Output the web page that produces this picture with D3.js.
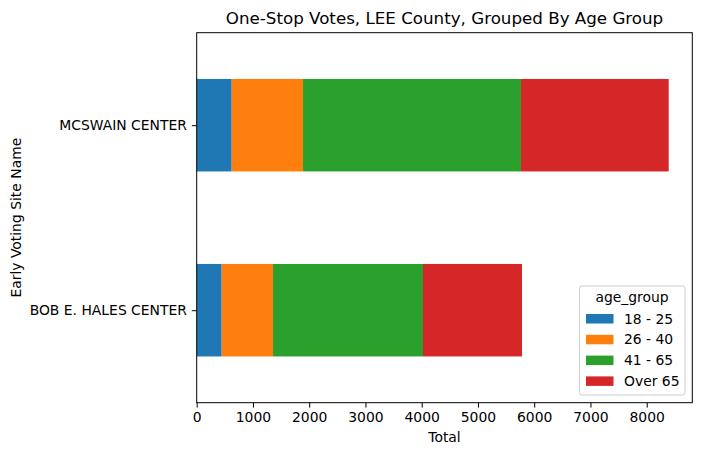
<!DOCTYPE html>
<html><head><meta charset="utf-8">
<script src="https://cdn.jsdelivr.net/npm/d3@7"></script>
<style>
body{margin:0;background:#fff;}
text{font-family:"DejaVu Sans",sans-serif;fill:#000;}
</style></head>
<body>
<svg id="chart" width="702" height="455"></svg>
<script>
const sites = ["BOB E. HALES CENTER", "MCSWAIN CENTER"];
const ageGroups = ["18 - 25", "26 - 40", "41 - 65", "Over 65"];
const v18_25 = [444, 622];
const v26_40 = [913, 1268];
const v41_65 = [2666, 3875];
const vOver65 = [1760, 2626];
const xTicks = [0, 1000, 2000, 3000, 4000, 5000, 6000, 7000, 8000];
const colors = ["#1f77b4", "#ff7f0e", "#2ca02c", "#d62728"];

const series = [v18_25, v26_40, v41_65, vOver65];
const rows = sites.map((s, i) => {
  const r = {site: s};
  ageGroups.forEach((g, k) => r[g] = series[k][i]);
  return r;
});
const stacked = d3.stack().keys(ageGroups)(rows);

const L = 196.7, R = 692.3, T = 32.7, B = 402.7;
const svg = d3.select("#chart");
const maxTotal = d3.max(rows, r => ageGroups.reduce((a, g) => a + r[g], 0));
const x = d3.scaleLinear().domain([0, maxTotal * 1.05]).range([L, R]);
// categories at 0..n-1, y-range from -0.5 to n-0.5 (bottom to top)
const yLin = d3.scaleLinear().domain([-0.5, sites.length - 0.5]).range([B, T]);
const barH = 0.5;

stacked.forEach((layer, k) => {
  svg.append("g").selectAll("rect").data(layer).join("rect")
    .attr("x", d => x(d[0]))
    .attr("width", d => x(d[1]) - x(d[0]))
    .attr("y", (d, i) => yLin(i + barH / 2))
    .attr("height", (d, i) => yLin(i - barH / 2) - yLin(i + barH / 2))
    .attr("fill", colors[k]);
});

// frame
svg.append("rect").attr("x", L).attr("y", T).attr("width", R - L).attr("height", B - T)
  .attr("fill", "none").attr("stroke", "#000").attr("stroke-width", 1);

// x axis
const xAxis = d3.axisBottom(x).tickValues(xTicks).tickFormat(d3.format("d")).tickSize(4.9).tickPadding(4.9);
const gx = svg.append("g").attr("transform", `translate(0,${B})`).call(xAxis);
gx.select(".domain").remove();
gx.selectAll("text").style("font-size", "13.9px").style("font-family", "DejaVu Sans");
gx.selectAll("line").attr("stroke", "#000").attr("stroke-width", 1);

// y axis
const yBand = d3.scaleOrdinal().domain(sites).range(sites.map((s, i) => yLin(i)));
const yAxis = d3.axisLeft(d3.scalePoint().domain(sites.slice().reverse()).range([yLin(sites.length - 1), yLin(0)]))
  .tickSize(4.9).tickPadding(4.9);
const gy = svg.append("g").attr("transform", `translate(${L},0)`).call(yAxis);
gy.select(".domain").remove();
gy.selectAll("text").style("font-size", "13.9px").style("font-family", "DejaVu Sans");
gy.selectAll("line").attr("stroke", "#000").attr("stroke-width", 1);

// labels
svg.append("text").attr("x", (L + R) / 2).attr("y", 442).attr("text-anchor", "middle")
  .style("font-size", "13.9px").text("Total");
svg.append("text").attr("transform", `translate(21,${(T + B) / 2}) rotate(-90)`).attr("text-anchor", "middle")
  .style("font-size", "13.9px").text("Early Voting Site Name");
svg.append("text").attr("x", (L + R) / 2).attr("y", 24).attr("text-anchor", "middle")
  .style("font-size", "16.7px").text("One-Stop Votes, LEE County, Grouped By Age Group");

// legend
const lg = svg.append("g");
lg.append("rect").attr("x", 579.5).attr("y", 286).attr("width", 105.5).attr("height", 109)
  .attr("rx", 2.5).attr("fill", "#fff").attr("fill-opacity", 0.8).attr("stroke", "#ccc").attr("stroke-width", 1);
lg.append("text").attr("x", 632).attr("y", 302).attr("text-anchor", "middle")
  .style("font-size", "13.9px").text("age_group");
ageGroups.forEach((g, k) => {
  const yy = 318.5 + k * 20.8;
  lg.append("rect").attr("x", 586).attr("y", yy - 4.5).attr("width", 27.5).attr("height", 9.5).attr("fill", colors[k]);
  lg.append("text").attr("x", 624).attr("y", yy + 5).style("font-size", "13.9px").text(g);
});
</script>
</body></html>
